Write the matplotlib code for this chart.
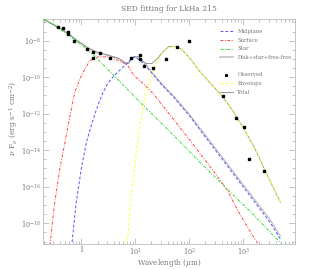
import numpy as np
import matplotlib
matplotlib.use('Agg')
import matplotlib.pyplot as plt
from matplotlib.lines import Line2D
from matplotlib.ticker import FixedLocator, NullFormatter

# values, log10(wavelength / um) and log10(nuFnu)
star_lx = [-0.70, -0.5, -0.3, -0.1, 0.1, 0.3, 0.5, 0.8, 1.2, 1.6, 2.2, 2.8, 3.2, 3.70]
star_ly = [-6.83, -7.18, -7.58, -8.0, -8.45, -9.0, -9.6, -10.5, -11.7, -12.85, -14.66, -16.4, -17.55, -19.1]

surf_lx = [-0.58, -0.5, -0.393, -0.302, -0.21, -0.119, 0.0, 0.155, 0.307, 0.52, 0.70, 0.856, 0.978, 1.16, 1.34,
           2.0, 2.44, 2.71, 2.9, 3.1, 3.29]
surf_ly = [-19.2, -17.0, -14.93, -13.56, -12.11, -10.8, -9.92, -9.10, -8.89, -8.89, -9.10, -9.33, -9.92, -10.38, -10.92,
           -13.4, -15.1, -16.2, -17.3, -18.3, -19.2]

mid_lx = [-0.18, -0.1, 0.0, 0.1, 0.2, 0.3, 0.4, 0.5, 0.6, 0.7, 0.8, 0.9, 0.95, 1.0, 1.05, 1.15, 1.3, 1.5, 1.7,
          2.0, 2.5, 3.0, 3.5, 3.69]
mid_ly = [-19.3, -17.0, -15.0, -13.5, -12.5, -11.6, -10.85, -10.3, -9.95, -9.65, -9.38, -9.08, -8.92, -8.9, -9.0,
          -9.25, -9.75, -10.45, -11.05, -12.1, -14.05, -16.0, -17.95, -18.85]

disk_lx = [-0.70, -0.45, -0.25, -0.1, 0.0, 0.125, 0.277, 0.52, 0.70, 0.80, 0.87, 0.92, 0.978, 1.07, 1.13, 1.19,
           1.3, 1.5, 1.7, 2.0, 2.5, 3.0, 3.5, 3.69]
disk_ly = [-6.83, -7.22, -7.6, -7.95, -8.15, -8.4, -8.62, -8.82, -8.98, -9.2, -9.25, -9.05, -8.89, -8.89, -9.1,
           -9.25, -9.7, -10.4, -11.0, -12.02, -13.95, -15.88, -17.8, -18.7]

env_lx = [0.85, 0.9, 0.95, 1.0, 1.1, 1.2, 1.3, 1.4, 1.5, 1.6, 1.7, 1.77, 1.85, 1.95, 2.05, 2.2, 2.4, 2.6, 2.8,
          3.0, 3.2, 3.4, 3.6, 3.69]
env_ly = [-19.2, -17.3, -15.9, -14.6, -12.4, -10.9, -9.9, -9.2, -8.7, -8.4, -8.32, -8.32, -8.45, -8.75, -9.1,
          -9.7, -10.35, -11.0, -11.8, -12.75, -13.8, -15.05, -16.3, -16.84]

tot_lx = [-0.70, -0.45, -0.25, -0.1, 0.0, 0.125, 0.277, 0.52, 0.70, 0.80, 0.87, 0.92, 0.978, 1.07, 1.13, 1.19,
          1.31, 1.40, 1.53, 1.62, 1.77, 1.85, 1.95, 2.05, 2.2, 2.4, 2.6, 2.8, 3.0, 3.2, 3.4, 3.6, 3.69]
tot_ly = [-6.83, -7.22, -7.6, -7.95, -8.15, -8.4, -8.62, -8.82, -8.98, -9.2, -9.25, -9.05, -8.89, -8.89, -9.1,
          -9.25, -9.25, -9.01, -8.56, -8.32, -8.32, -8.45, -8.75, -9.1, -9.7, -10.35, -11.0, -11.8, -12.75, -13.8,
          -15.05, -16.3, -16.84]

obs_lx = [-0.424, -0.344, -0.253, -0.241, -0.137, 0.101, 0.222, 0.222, 0.344, 0.539, 0.923, 1.081, 1.081,
          1.166, 1.325, 1.563, 1.770, 1.990, 2.629, 2.873, 3.013, 3.117, 3.397]
obs_ly = [-7.28, -7.32, -7.55, -7.66, -8.03, -8.45, -8.61, -8.94, -8.68, -8.94, -8.94, -8.79, -9.01,
          -9.39, -9.50, -8.99, -8.36, -8.03, -11.05, -12.22, -12.73, -14.48, -15.13]


def lin(a):
    return 10.0 ** np.asarray(a)


txt = '#777777'
plt.rcParams['font.family'] = ['DejaVu Serif']
plt.rcParams['mathtext.fontset'] = 'dejavuserif'

fig = plt.figure(figsize=(3.14, 2.69), dpi=100)
ax = fig.add_axes([0.137, 0.092, 0.802, 0.837])

ax.plot(lin(disk_lx), lin(disk_ly), color='#c4c4c4', lw=1.0, zorder=2)
ax.plot(lin(tot_lx), lin(tot_ly), color='#8a8a8a', lw=0.6, zorder=3)
ax.plot(lin(mid_lx), lin(mid_ly), color='#5555ff', lw=0.7, ls=(0, (3, 2)), zorder=4)
ax.plot(lin(surf_lx), lin(surf_ly), color='#ff4444', lw=0.7, ls=(0, (3, 1.5, 1, 1.5)), zorder=4)
ax.plot(lin(star_lx), lin(star_ly), color='#33dd33', lw=0.7, ls=(0, (3, 1.5, 1, 1.5)), zorder=4)
ax.plot(lin(env_lx), lin(env_ly), color='#ffff33', lw=0.7, ls=(0, (3, 2)), zorder=5)
ax.plot(lin(obs_lx), lin(obs_ly), ls='none', marker='s', ms=1.5, color='black', zorder=6)

ax.set_xscale('log')
ax.set_yscale('log')
ax.set_xlim(10 ** -0.71, 10 ** 3.96)
ax.set_ylim(10 ** -19.15, 10 ** -6.82)

ax.xaxis.set_major_locator(FixedLocator([1, 10, 100, 1000]))
ax.set_xticklabels(['1', '$10^1$', '$10^2$', '$10^3$'])
ax.yaxis.set_major_locator(FixedLocator([10.0 ** e for e in (-18, -16, -14, -12, -10, -8)]))
ax.set_yticklabels(['$10^{-18}$', '$10^{-16}$', '$10^{-14}$', '$10^{-12}$', '$10^{-10}$', '$10^{-8}$'])
ax.yaxis.set_minor_locator(FixedLocator([10.0 ** (k / 2.0) for k in range(-40, -12)]))
ax.yaxis.set_minor_formatter(NullFormatter())
ax.xaxis.set_minor_formatter(NullFormatter())

ax.tick_params(which='both', direction='in', top=True, right=True, colors='#aaaaaa',
               labelcolor=txt, labelsize=4.8, width=0.5, pad=1.5)
ax.tick_params(which='major', length=4)
ax.tick_params(which='minor', length=2)
for s in ax.spines.values():
    s.set_color('#bbbbbb')
    s.set_linewidth(0.6)

ax.set_title('SED fitting for LkHa 215', fontsize=5.5, color=txt, pad=6)
ax.set_xlabel(r'Wavelength ($\mu$m)', fontsize=5.2, color=txt)
ax.xaxis.set_label_coords(0.5, -0.058)
ax.set_ylabel(r'$\nu$ F$_\nu$ (erg s$^{-1}$ cm$^{-2}$)', fontsize=5.5, color=txt)
ax.yaxis.set_label_coords(-0.09, 0.56)

handles = [
    Line2D([], [], color='#5555ff', lw=0.7, ls=(0, (3, 2))),
    Line2D([], [], color='#ff4444', lw=0.7, ls=(0, (3, 1.5, 1, 1.5))),
    Line2D([], [], color='#33dd33', lw=0.7, ls=(0, (3, 1.5, 1, 1.5))),
    Line2D([], [], color='#c4c4c4', lw=1.2),
    Line2D([], [], color='none'),
    Line2D([], [], ls='none', marker='s', ms=1.2, color='black'),
    Line2D([], [], color='#ffff33', lw=0.7, ls=(0, (3, 2))),
    Line2D([], [], color='#8a8a8a', lw=0.6),
]
labels = ['Midplane', 'Surface', 'Star', 'Disk+star+free-free', ' ', 'Observed', 'Envelope', 'Total']
leg = ax.legend(handles, labels, loc='upper right', bbox_to_anchor=(1.0, 0.97), frameon=False,
                fontsize=3.8, handlelength=2.4, handletextpad=0.9, labelspacing=0.7, borderaxespad=0.2)
for t in leg.get_texts():
    t.set_color(txt)

fig.savefig('out.png', dpi=100)
